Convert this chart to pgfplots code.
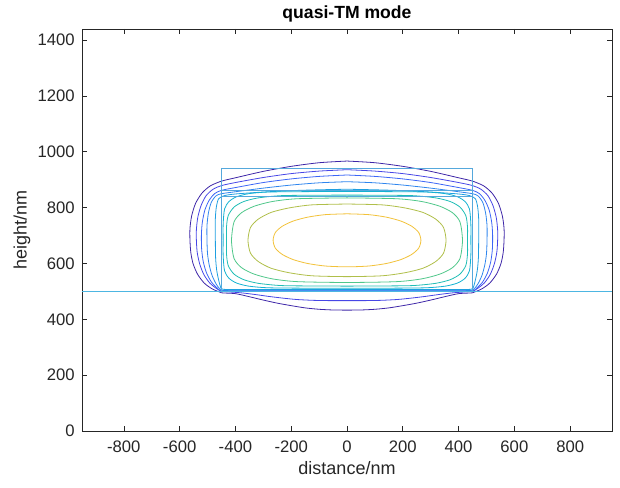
\documentclass[border=0pt]{standalone}
\usepackage{fontspec}
\setmainfont{Liberation Sans}
\usepackage{pgfplots}
\pgfplotsset{compat=1.18}
\definecolor{axc}{HTML}{262626}
\definecolor{rc}{HTML}{55A8DC}
\definecolor{sc}{HTML}{4DB6E2}
\definecolor{ra}{HTML}{3E26A8}
\definecolor{rb}{HTML}{4746E6}
\definecolor{rcc}{HTML}{3C66F6}
\definecolor{rd}{HTML}{2F86EE}
\definecolor{re}{HTML}{1E9FE0}
\definecolor{rf}{HTML}{14B2D2}
\definecolor{rg}{HTML}{1FBDB6}
\definecolor{rh}{HTML}{4FC78A}
\definecolor{ri}{HTML}{B0BF4A}
\definecolor{rj}{HTML}{F2C23A}
\begin{document}
\begin{tikzpicture}
\useasboundingbox (-61.5pt,-42.75pt) rectangle (403.5pt,323.25pt);
\begin{axis}[at={(0,0)}, anchor=south west, scale only axis,
  width=397.5pt, height=301.5pt,
  xmin=-950, xmax=950, ymin=0, ymax=1440,
  xtick={-800,-600,...,800}, ytick={0,200,...,1400},
  tick align=inside, major tick length=3.75pt,
  axis line style={axc, line width=0.5pt},
  tick style={axc, line width=0.5pt},
  ticklabel style={font=\fontsize{12.5}{14}\selectfont, text=axc},
  xticklabel style={anchor=base, yshift=-16pt},
  yticklabel style={anchor=east, xshift=-2pt},
  /pgf/number format/assume math mode=true,
  /pgf/number format/set thousands separator={},
  xlabel={distance/nm}, ylabel={height/nm},
  label style={font=\fontsize{13.5}{15}\selectfont, text=axc},
  xlabel style={at={(axis description cs:0.5,-0.107)}, anchor=base},
  ylabel style={at={(axis description cs:-0.1132,0.5)}, anchor=center},
  clip=true,
]
% contours (outer to inner)
\addplot[ra, line width=0.6pt, smooth, tension=0.45] coordinates {
(0,967) (100,961) (200,948) (300,930) (400,907) (450,895) (490,878) (520,852) (543,815) (557,770) (563,725) (563,684) (560,640) (552,600) (536,562) (512,530) (485,510) (465,501) (450,495) (400,492) (350,481) (300,469) (250,458) (200,449) (150,441) (100,436) (50,433.5) (0,433)
(-50,433.5) (-100,436) (-150,441) (-200,449) (-250,458) (-300,469) (-350,481) (-400,492) (-450,495) (-465,501) (-485,510) (-512,530) (-536,562) (-552,600) (-560,640) (-563,684) (-563,725) (-557,770) (-543,815) (-520,852) (-490,878) (-450,895) (-400,907) (-300,930) (-200,948) (-100,961) (0,967)};
\addplot[rb, line width=0.6pt, smooth, tension=0.45] coordinates {
(0,936) (100,931) (200,922) (300,908) (400,890) (450,879) (480,866) (505,843) (523,808) (535,765) (540,720) (540,684) (537,640) (528,598) (513,560) (492,530) (470,512) (455,502) (420,498) (380,495) (330,489) (280,482) (230,476) (180,471) (120,468) (60,467) (0,467)
(-60,467) (-120,468) (-180,471) (-230,476) (-280,482) (-330,489) (-380,495) (-420,498) (-455,502) (-470,512) (-492,530) (-513,560) (-528,598) (-537,640) (-540,684) (-540,720) (-535,765) (-523,808) (-505,843) (-480,866) (-450,879) (-400,890) (-300,908) (-200,922) (-100,931) (0,936)};
\addplot[rcc, line width=0.6pt, smooth, tension=0.45] coordinates {
(0,917) (100,912) (200,903) (300,890) (400,872) (450,862) (475,850) (495,825) (510,790) (519,745) (522,700) (521,650) (515,605) (503,565) (485,532) (465,512) (452,503) (400,502) (200,502) (0,502)
(-200,502) (-400,502) (-452,503) (-465,512) (-485,532) (-503,565) (-515,605) (-521,650) (-522,700) (-519,745) (-510,790) (-495,825) (-475,850) (-450,862) (-400,872) (-300,890) (-200,903) (-100,912) (0,917)};
\addplot[rd, line width=0.6pt, smooth, tension=0.45] coordinates {
(0,893) (100,889) (200,881) (300,870) (400,857) (450,850) (470,842) (487,818) (497,780) (502,735) (502,684) (500,635) (494,595) (484,558) (470,528) (457,510) (448,504) (400,504) (200,504) (0,504)
(-200,504) (-400,504) (-448,504) (-457,510) (-470,528) (-484,558) (-494,595) (-500,635) (-502,684) (-502,735) (-497,780) (-487,818) (-470,842) (-450,850) (-400,857) (-300,870) (-200,881) (-100,889) (0,893)};
\addplot[re, line width=0.6pt, smooth, tension=0.45] coordinates {
(0,866) (100,864) (200,861) (300,856) (400,849) (440,843) (460,832) (468,805) (472,760) (472,684) (471,620) (467,575) (460,540) (454,518) (446,508) (400,507) (200,507) (0,507)
(-200,507) (-400,507) (-446,508) (-454,518) (-460,540) (-467,575) (-471,620) (-472,684) (-472,760) (-468,805) (-460,832) (-440,843) (-400,849) (-300,856) (-200,861) (-100,864) (0,866)};
\addplot[rf, line width=0.6pt, smooth, tension=0.45] coordinates {
(0,858) (140,857.5) (283,856) (353,850) (396,839) (423,822) (439,795) (444,740) (444,684) (444,630) (439,574) (423,547) (396,530) (353,519) (283,513) (140,511.5) (0,511)
(-140,511.5) (-283,513) (-353,519) (-396,530) (-423,547) (-439,574) (-444,630) (-444,684) (-444,740) (-439,795) (-423,822) (-396,839) (-353,850) (-283,856) (-140,857.5) (0,858)};
\addplot[rg, line width=0.6pt, smooth, tension=0.45] coordinates {
(0,845) (120,844.5) (237,843) (318,835) (370,822) (405,802) (426,771) (432,730) (432,682) (432,635) (426,593) (405,562) (370,542) (318,529) (237,521) (120,519.5) (0,519)
(-120,519.5) (-237,521) (-318,529) (-370,542) (-405,562) (-426,593) (-432,635) (-432,682) (-432,730) (-426,771) (-405,802) (-370,822) (-318,835) (-237,843) (-120,844.5) (0,845)};
\addplot[rh, line width=0.6pt, smooth, tension=0.45] coordinates {
(0,835) (178,832) (268,822) (333,805) (378,782) (405,749) (414,683) (405,618) (378,585) (333,562) (268,545) (178,535) (0,532)
(-178,535) (-268,545) (-333,562) (-378,585) (-405,618) (-414,683) (-405,749) (-378,782) (-333,805) (-268,822) (-178,832) (0,835)};
\addplot[ri, line width=0.6pt, smooth, tension=0.45] coordinates {
(0,813) (126,810) (208,799) (272,783) (318,759) (346,729) (355,683) (346,637) (318,607) (272,583) (208,567) (126,556) (0,553)
(-126,556) (-208,567) (-272,583) (-318,607) (-346,637) (-355,683) (-346,729) (-318,759) (-272,783) (-208,799) (-126,810) (0,813)};
\addplot[rj, line width=0.6pt, smooth, tension=0.45] coordinates {
(0,778) (78,775) (141,766) (193,752) (232,733.5) (257,711) (265,683) (257,655) (232,632.5) (193,614) (141,600) (78,591) (0,588)
(-78,591) (-141,600) (-193,614) (-232,632.5) (-257,655) (-265,683) (-257,711) (-232,733.5) (-193,752) (-141,766) (-78,775) (0,778)};
% structure
\addplot[rc, line width=0.6pt] coordinates {(-450,500) (-450,940) (450,940) (450,500)};
\addplot[rc, line width=0.6pt] coordinates {(-450,861) (450,861)};
\addplot[rc, line width=0.6pt] coordinates {(-450,842) (450,842)};
\addplot[sc, line width=0.6pt] coordinates {(-950,500) (950,500)};
\end{axis}
\node[font=\bfseries\fontsize{13.2}{15}\selectfont, text=black, anchor=base] at (198.75pt,309pt) {quasi-TM mode};
\end{tikzpicture}
\end{document}
